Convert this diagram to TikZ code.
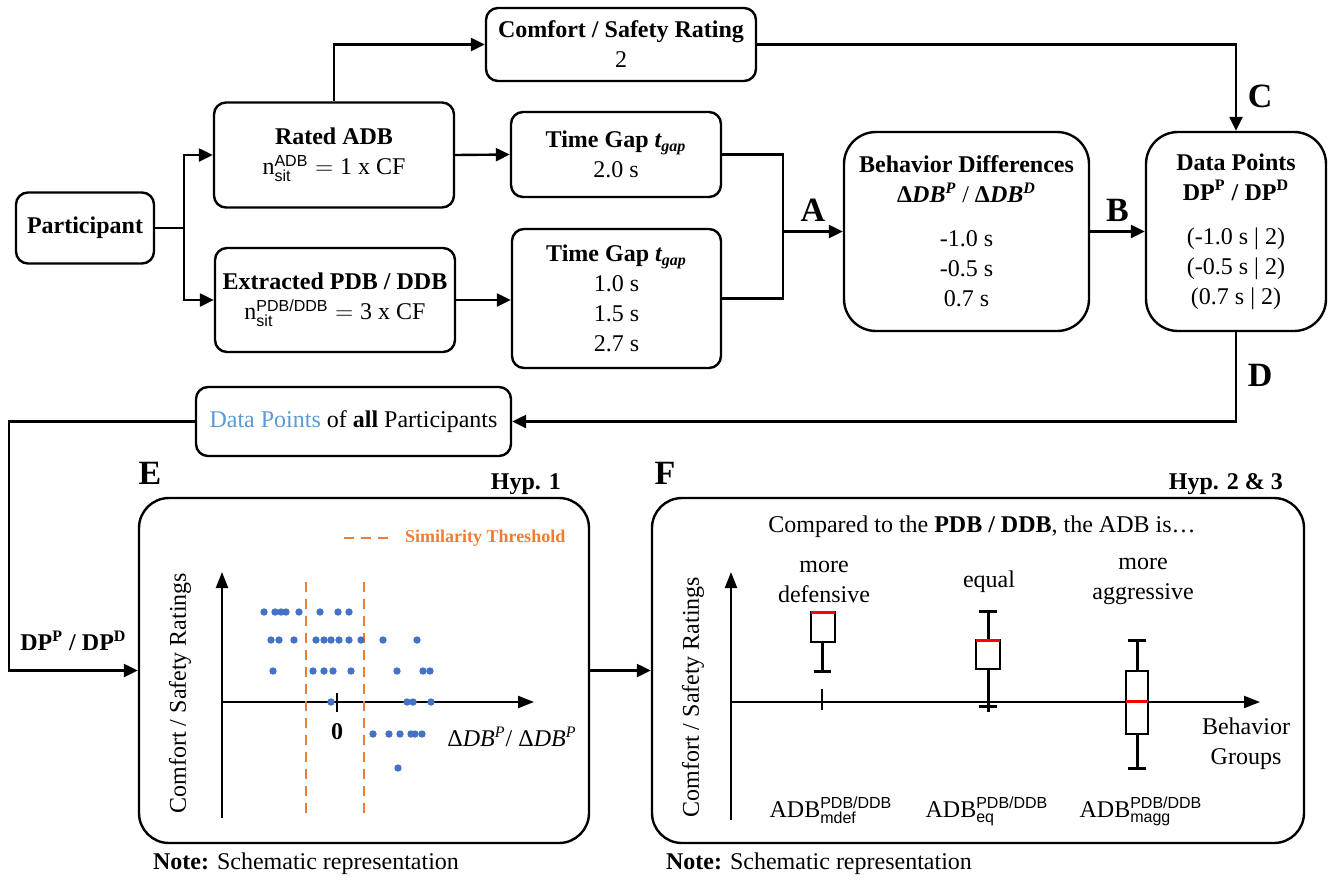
\documentclass[tikz,border=0pt]{standalone}
\usepackage{fontspec}
\usepackage{amsmath}
\setmainfont{Liberation Serif}
\setsansfont{Liberation Sans}
\usetikzlibrary{arrows.meta}
\definecolor{ptblue}{HTML}{5B9BD5}
\definecolor{dotblue}{HTML}{4472C4}
\definecolor{throrange}{HTML}{ED7D31}
\newcommand{\ssf}[1]{\text{\sffamily #1}}
\newcommand{\bfit}[1]{\text{\bfseries\itshape #1}}
\begin{document}
\begin{tikzpicture}[x=0.5pt, y=-0.5pt,
                   font=\fontsize{12}{15}\selectfont,
                   box/.style={draw=black, line width=1.2pt, rounded corners=6pt, align=center, inner sep=2pt},
                   bigbox/.style={box, rounded corners=16pt},
                   panel/.style={draw=black, line width=1.2pt, rounded corners=15pt},
                   line/.style={line width=1.2pt},
                   arr/.style={line width=1.2pt, -{Triangle[length=7pt,width=6.5pt]}},
                   axis/.style={line width=1.1pt, -{Triangle[length=8pt,width=6pt]}},
                   lab/.style={font=\fontsize{17}{20}\selectfont\bfseries},
                   thr/.style={throrange, line width=1.2pt, dash pattern=on 5pt off 3.5pt},
                   whisk/.style={line width=1.5pt},
                   bp/.style={line width=1.1pt, fill=white},
                   med/.style={red, line width=1.5pt}]
\useasboundingbox (0,0) rectangle (1339,880);
% flow chart
\node[box, minimum width=69pt, minimum height=35.5pt] (part) at (85,228) {\textbf{Participant}};
\node[box, minimum width=120pt, minimum height=52.5pt] (rated) at (334,155)
	{\textbf{Rated ADB}\\ $\text{n}^{\ssf{ADB}}_{\ssf{sit}} = \text{1 x CF}$};
\node[box, minimum width=120pt, minimum height=52pt] (extr) at (335,300)
	{\textbf{Extracted PDB / DDB}\\ $\text{n}^{\ssf{PDB/DDB}}_{\ssf{sit}} = \text{3 x CF}$};
\node[box, minimum width=135pt, minimum height=36.5pt] (comfort) at (621,44.5)
	{\textbf{Comfort / Safety Rating}\\2};
\node[box, minimum width=105pt, minimum height=42.5pt] (gap1) at (616,154.5)
	{\textbf{Time Gap} $\bfit{t}_{\bfit{gap}}$\\2.0 s};
\node[box, minimum width=104.5pt, minimum height=69.5pt] (gap2) at (616.5,298.5)
	{\textbf{Time Gap} $\bfit{t}_{\bfit{gap}}$\\1.0 s\\1.5 s\\2.7 s};
\node[bigbox, minimum width=122.5pt, minimum height=99.5pt] (behav) at (966.5,231.5)
	{\textbf{Behavior Differences}\\ $\text{\bfseries Δ}\bfit{DB}^{\bfit{P}}$ / $\text{\bfseries Δ}\bfit{DB}^{\bfit{D}}$\\[7pt]
	 -1.0 s\\-0.5 s\\0.7 s};
\node[bigbox, minimum width=90pt, minimum height=99.5pt] (dpts) at (1236,231.5)
	{\textbf{Data Points}\\ $\text{\bfseries DP}^{\text{\bfseries P}}$ \textbf{/} $\text{\bfseries DP}^{\text{\bfseries D}}$\\[7pt]
	 (-1.0 s | 2)\\(-0.5 s | 2)\\(0.7 s | 2)};
\node[box, minimum width=157.5pt, minimum height=34.5pt] (allpts) at (353.5,421.5)
	{\textcolor{ptblue}{Data Points} of \textbf{all} Participants};
\coordinate (split) at (184,228);
\coordinate (join) at (783,231.5);
\coordinate (back) at (9,421.5);
\draw[line] (part.east) -- (split);
\draw[arr] (split) |- (rated.west);
\draw[arr] (split) |- (extr.west);
\draw[arr] (rated.north) |- (comfort.west);
\draw[arr] (rated.east) -- (gap1.west);
\draw[arr] (extr.east) -- (extr.east -| gap2.west);
\draw[line] (gap1.east) -| (join);
\draw[line] (gap2.east) -| (join);
\draw[arr] (join) -- (behav.west) node[lab, midway, above=1pt] (labA) {A};
\draw[arr] (behav.east) -- (dpts.west) node[lab, midway, above=1pt] (labB) {B};
\draw[arr] (comfort.east) -| (dpts.north) node[lab, pos=0.8, right=2pt] (labC) {C};
\draw[arr] (dpts.south) |- (allpts.east) node[lab, pos=0.24, right=2pt] (labD) {D};
% panels
\node[panel, minimum width=225pt, minimum height=172.5pt] (boxE) at (364,670.5) {};
\node[panel, minimum width=326pt, minimum height=172.5pt] (boxF) at (978,670.5) {};
\draw[arr] (allpts.west) -- (back) |- (boxE.west)
	node[pos=0.75, above=6pt] (dplab) {$\text{\bfseries DP}^{\text{\bfseries P}}$ \textbf{/} $\text{\bfseries DP}^{\text{\bfseries D}}$};
\draw[arr] (boxE.east) -- (boxF.west);
\node[lab] (labE) at (150,473) {E};
\node[lab] (labF) at (665,473) {F};
\node[anchor=east] (hypE) at (568,484) {\textbf{Hyp. 1}};
\node[anchor=east] (hypF) at (1290,484) {\textbf{Hyp. 2 \& 3}};
\node[anchor=base west] (noteE) at (146,869) {\textbf{Note:} Schematic representation};
\node[anchor=base west] (noteF) at (659,869) {\textbf{Note:} Schematic representation};
% panel E
\draw[thr] (344,538) -- (389,538);
\node[anchor=west, text=throrange, font=\fontsize{9}{11}\selectfont\bfseries] (thrlab) at (398,538) {Similarity Threshold};
\draw[axis] (222,818) -- (222,572);
\draw[axis] (222,702) -- (534,702);
\draw[line width=1.1pt] (337,693) -- (337,712);
\node[font=\fontsize{12}{15}\selectfont\bfseries] (zero) at (337,732) {0};
\draw[thr] (306,582) -- (306,817);
\draw[thr] (364,582) -- (364,817);
\foreach \yy/\xlist in {612/{264,275,281,286,299,320,338,349},
                        640/{271,279,294,316,324,331,339,349,361,383,417},
                        671/{273,313,324,333,351,397,423,430},
                        702/{331,407,413,431},
                        734/{373,389,400,411,415,422},
                        768/{398}}
	\foreach \xx in \xlist
		\fill[dotblue] (\xx,\yy) circle[radius=1.85pt];
\node (xlabE) at (512,737) {$\text{Δ\itshape DB}^{\text{\itshape P}}$/ $\text{Δ\itshape DB}^{\text{\itshape P}}$};
\node[rotate=90] (ylabE) at (180,693) {Comfort / Safety Ratings};
% panel F
\node (title) at (982,527) {Compared to the \textbf{PDB / DDB}, the ADB is\ldots};
\draw[axis] (731,820) -- (731,572);
\draw[axis] (731,702) -- (1260,702);
\node[rotate=90] (ylabF) at (693,697) {Comfort / Safety Ratings};
\node[align=center] (grplab) at (1246,743.5) {Behavior\\Groups};
\node[align=center] (mdef) at (824,581.5) {more\\defensive};
\node (eq) at (989,582) {equal};
\node[align=center] (magg) at (1143,581.5) {more\\aggressive};
\node[anchor=base] (admdef) at (831,817) {ADB$^{\ssf{PDB/DDB}}_{\ssf{mdef}}$};
\node[anchor=base] (adeq) at (987,817) {ADB$^{\ssf{PDB/DDB}}_{\ssf{eq}}$};
\node[anchor=base] (admagg) at (1141,817) {ADB$^{\ssf{PDB/DDB}}_{\ssf{magg}}$};
% boxplots
\draw[line width=1.1pt] (822,689) -- (822,710);
\draw[whisk] (822,642) -- (822,671);
\draw[whisk] (814,671) -- (831,671);
\draw[bp] (811,612) rectangle (835,642);
\draw[med] (811,612) -- (835,612);
\draw[whisk] (988,611) -- (988,640);
\draw[whisk] (979,611) -- (997,611);
\draw[whisk] (988,669) -- (988,712);
\draw[whisk] (979,706) -- (997,706);
\draw[bp] (976,640) rectangle (1000,669);
\draw[med] (976,640) -- (1000,640);
\draw[whisk] (1137,640) -- (1137,671);
\draw[whisk] (1128,640) -- (1146,640);
\draw[whisk] (1137,734) -- (1137,768);
\draw[whisk] (1128,768) -- (1146,768);
\draw[bp] (1126,671) rectangle (1148,734);
\draw[med] (1126,701) -- (1148,701);
\end{tikzpicture}
\end{document}
